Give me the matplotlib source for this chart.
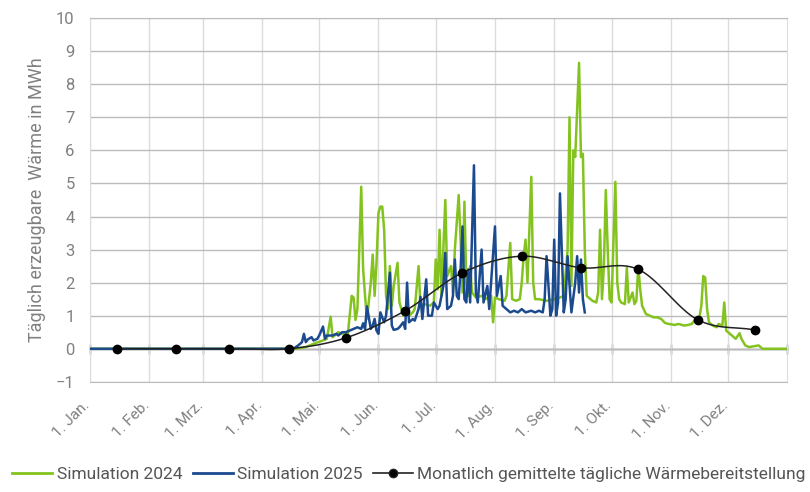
import numpy as np
import matplotlib
matplotlib.use("Agg")
import matplotlib.pyplot as plt
from matplotlib.lines import Line2D

plt.rcParams['font.family'] = ['Roboto', 'DejaVu Sans']

# ---------------- data ----------------
month_labels = ["1. Jan.", "1. Feb.", "1. Mrz.", "1. Apr.", "1. Mai.", "1. Jun.",
                "1. Jul.", "1. Aug.", "1. Sep.", "1. Okt.", "1. Nov.", "1. Dez."]
month_starts = [0, 31, 59, 90, 120, 151, 181, 212, 243, 273, 304, 334]

# Simulation 2024 (day of year, 0 = 1. Jan.)
green_days = [0, 108, 113, 118, 122, 124, 126, 127, 129, 130, 132, 133, 135, 137, 138, 139, 140,
              142, 143, 144, 145, 147, 148, 149, 150, 151, 152, 153, 154, 155, 156, 157, 158,
              159, 161, 162, 163, 164, 165, 167, 169, 170, 172, 173, 175, 178, 180, 181, 182,
              183, 184, 186, 187, 189, 190, 191, 193, 194, 195, 196, 197, 198, 199, 200, 202,
              205, 207, 210, 211, 212, 214, 217, 218, 220, 221, 223, 225, 226, 227, 228, 229,
              231, 232, 233, 235, 239, 243, 246, 248, 250, 251, 252, 253, 254, 256, 257, 258,
              259, 260, 263, 265, 266, 267, 268, 269, 270, 271, 272, 273, 275, 276, 277, 278,
              280, 281, 282, 284, 285, 286, 287, 288, 289, 291, 293, 295, 297, 299, 301, 303,
              306, 308, 311, 313, 315, 317, 319, 320, 321, 322, 323, 324, 326, 328, 329, 331,
              332, 333, 335, 336, 338, 340, 341, 343, 345, 348, 350, 352, 365]
green_vals = [0, 0, 0.05, 0.17, 0.25, 0.3, 0.97, 0.35, 0.45, 0.5, 0.45, 0.5, 0.45, 1.6, 1.55, 0.87, 1.2,
              4.9, 2.4, 1.6, 0.9, 2.0, 2.85, 1.6, 2.6, 4.1, 4.3, 4.3, 3.6, 1.6, 1.2, 2.5, 1.3,
              1.9, 2.6, 1.4, 1.2, 1.0, 1.1, 1.0, 1.1, 1.2, 2.5, 1.3, 1.35, 1.3, 1.4, 2.7, 1.8,
              3.6, 1.6, 4.5, 2.2, 2.5, 1.7, 3.0, 4.65, 3.3, 1.7, 4.45, 2.0, 1.6, 2.5, 1.7, 1.55,
              1.6, 1.5, 1.6, 0.8, 1.55, 1.5, 1.45, 1.6, 3.2, 1.5, 1.45, 1.5, 2.0, 2.8, 3.3, 2.0,
              5.2, 2.0, 1.5, 1.5, 1.45, 1.5, 1.55, 1.6, 3.0, 7.0, 1.9, 6.0, 5.8, 8.65, 5.8, 5.9,
              3.0, 1.6, 1.45, 1.4, 1.7, 3.6, 1.5, 2.5, 4.8, 3.0, 1.5, 1.4, 5.05, 2.0, 1.5, 1.4,
              1.35, 2.45, 1.4, 1.7, 1.35, 1.45, 2.5, 1.8, 1.3, 1.05, 1.0, 0.95, 0.95, 0.9, 0.78, 0.75,
              0.72, 0.75, 0.7, 0.72, 0.75, 0.9, 0.95, 1.3, 2.2, 2.15, 1.2, 0.8, 0.7, 0.65, 0.75, 0.7,
              1.4, 0.55, 0.45, 0.4, 0.3, 0.47, 0.3, 0.1, 0.05, 0.08, 0.1, 0.0, 0.0]

# Simulation 2025
blue_days = [0, 104, 107, 109, 111, 112, 113, 114, 116, 117, 119, 120, 122, 123, 124, 127, 129, 130,
             132, 134, 136, 138, 140, 142, 143, 144, 145, 147, 148, 149, 150, 151, 152, 154, 155,
             157, 158, 159, 161, 162, 164, 165, 166, 167, 169, 170, 172, 173, 174, 176, 177, 179,
             180, 182, 183, 185, 186, 187, 189, 190, 191, 192, 193, 194, 195, 196, 197, 198, 199,
             201, 202, 203, 205, 206, 208, 209, 212, 213, 215, 216, 218, 220, 222, 224, 226, 228,
             231, 233, 235, 237, 238, 239, 241, 242, 243, 244, 245, 246, 248, 249, 250, 252, 254,
             255, 256, 257, 258, 259]
blue_vals = [0, 0, 0.02, 0.1, 0.2, 0.45, 0.2, 0.28, 0.35, 0.25, 0.3, 0.4, 0.67, 0.3, 0.4, 0.4, 0.45, 0.4,
             0.5, 0.5, 0.55, 0.6, 0.65, 0.6, 0.77, 0.6, 1.28, 0.6, 0.7, 0.9, 0.55, 0.45, 1.1, 0.8, 1.0,
             2.3, 0.7, 0.57, 0.6, 0.65, 0.8, 0.6, 2.0, 0.8, 0.9, 0.85, 1.2, 1.57, 0.9, 2.1, 1.0, 1.0,
             1.4, 1.2, 1.3, 1.9, 2.9, 1.2, 1.3, 1.6, 2.7, 1.6, 1.5, 2.4, 3.7, 1.5, 1.4, 2.4, 1.4,
             5.55, 1.7, 1.4, 3.0, 1.4, 1.9, 1.2, 3.7, 1.6, 2.2, 1.3, 1.2, 1.1, 1.15, 1.1, 1.2, 1.1,
             1.15, 1.1, 1.15, 1.1, 1.5, 2.8, 1.0, 1.2, 3.3, 1.0, 1.4, 4.7, 1.1, 1.5, 2.8, 1.1, 2.0,
             2.8, 1.7, 2.7, 1.5, 1.1]

# Monthly mean (mid-month)
monthly_days = [14, 45, 73, 104, 134, 165, 195, 226, 257, 287, 318, 348]
monthly_vals = [0.0, 0.0, 0.0, 0.0, 0.33, 1.15, 2.3, 2.8, 2.45, 2.4, 0.88, 0.57]

y_ticks = list(range(-1, 11))

# ---------------- helpers ----------------
def catmull_rom(x, y, n=40):
    x = np.asarray(x, float); y = np.asarray(y, float)
    px = np.concatenate([[2 * x[0] - x[1]], x, [2 * x[-1] - x[-2]]])
    py = np.concatenate([[2 * y[0] - y[1]], y, [2 * y[-1] - y[-2]]])
    xs, ys = [], []
    t = np.linspace(0, 1, n)
    for i in range(1, len(px) - 2):
        p0, p1, p2, p3 = [np.array([px[j], py[j]]) for j in (i - 1, i, i + 1, i + 2)]
        pts = 0.5 * ((2 * p1)[None, :] + (-p0 + p2)[None, :] * t[:, None]
                     + (2 * p0 - 5 * p1 + 4 * p2 - p3)[None, :] * (t ** 2)[:, None]
                     + (-p0 + 3 * p1 - 3 * p2 + p3)[None, :] * (t ** 3)[:, None])
        xs.append(pts[:, 0]); ys.append(pts[:, 1])
    return np.concatenate(xs), np.concatenate(ys)

# ---------------- figure ----------------
fig = plt.figure(figsize=(8.10, 4.92), dpi=100)
ax = fig.add_axes([0.111, 0.224, 0.861, 0.739])

green = '#84c31f'
blue = '#1b4a8e'
hgrid = '#bcbcbc'
vgrid = '#dcdcdc'
txt = '#808080'

ax.set_xlim(0, 365)
ax.set_ylim(-1, 10)
ax.set_yticks(y_ticks)
ax.set_xticks(month_starts)
ax.set_xticklabels([])
ax.tick_params(axis='x', length=0)
ax.tick_params(axis='y', length=0, pad=11, labelsize=12, labelcolor=txt)

ax.grid(axis='y', color=hgrid, lw=1.0)
ax.grid(axis='x', color=vgrid, lw=1.0)
ax.set_axisbelow(True)
for s in ('top', 'bottom'):
    ax.spines[s].set_color(hgrid)
for s in ('left', 'right'):
    ax.spines[s].set_color(vgrid)

# labels along bottom edge
for d, lab in zip(month_starts, month_labels):
    ax.text(d + 1.5, -1.5, lab, rotation=45, ha='right', va='top', fontsize=11, color=txt)

# zero axis with cross ticks
zero_pos = (0 - (-1)) / 11.0
sec = ax.secondary_xaxis(zero_pos)
sec.set_xticks(month_starts + [365])
sec.set_xticklabels([])
sec.tick_params(axis='x', direction='inout', length=7, color='#555555', width=1)
sec.spines['bottom'].set_color('#555555')
sec.spines['bottom'].set_linewidth(1.0)

ax.plot(green_days, green_vals, color=green, lw=1.8, zorder=3)
ax.plot(blue_days, blue_vals, color=blue, lw=1.8, zorder=4)
sx, sy = catmull_rom(monthly_days, monthly_vals)
ax.plot(sx, sy, color='#222222', lw=1.1, zorder=5)
ax.plot(monthly_days, monthly_vals, 'o', color='black', ms=6, zorder=6)

ax.set_ylabel("Täglich erzeugbare  Wärme in MWh", fontsize=13, color=txt, labelpad=7)

handles = [Line2D([], [], color=green, lw=2),
           Line2D([], [], color=blue, lw=2),
           Line2D([], [], color='#222222', lw=1.2, marker='o', ms=6, markerfacecolor='black')]
labels = ["Simulation 2024", "Simulation 2025", "Monatlich gemittelte tägliche Wärmebereitstellung"]
fig.legend(handles, labels, loc='lower center', bbox_to_anchor=(0.505, -0.012), ncol=3,
           frameon=False, fontsize=12.5, handlelength=2.3, handletextpad=0.25,
           columnspacing=0.6, labelcolor='#555555')

fig.savefig('out.png', dpi=100)
